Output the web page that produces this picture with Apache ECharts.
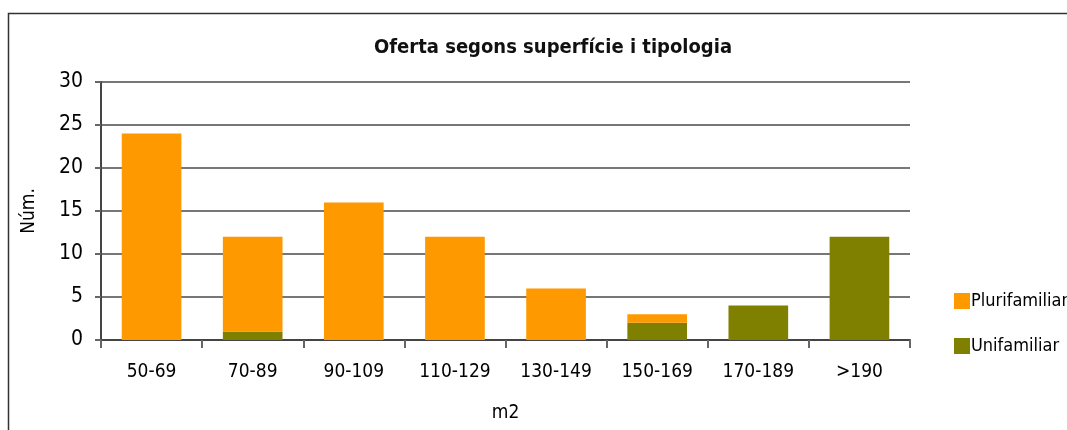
<!DOCTYPE html>
<html>
<head>
<meta charset="utf-8">
<script src="https://cdn.jsdelivr.net/npm/echarts@6/dist/echarts.min.js"></script>
<style>
  html, body { margin: 0; padding: 0; background: #fff; }
  #chart { width: 1067px; height: 430px; }
</style>
</head>
<body>
<div id="chart"></div>
<script>
const categories = ["50-69", "70-89", "90-109", "110-129", "130-149", "150-169", "170-189", ">190"];
const plurifamiliar = [24, 11, 16, 12, 6, 1, 0, 0];
const unifamiliar = [0, 1, 0, 0, 0, 2, 4, 12];
const yTicks = [0, 5, 10, 15, 20, 25, 30];

const font = '"Liberation Sans Narrow", "DejaVu Sans Condensed", "Liberation Sans", sans-serif';

const chart = echarts.init(document.getElementById("chart"));
chart.setOption({
  animation: false,
  textStyle: { fontFamily: font },
  title: {
    text: "Oferta segons superfície i tipologia",
    left: 548,
    top: 33,
    textAlign: "center",
    textStyle: { fontFamily: font, fontSize: 20, fontWeight: "bold", color: "#111" },
  },
  graphic: [
    {
      type: "rect",
      shape: { x: 8.5, y: 13.5, width: 1070, height: 430 },
      style: { fill: "none", stroke: "#333", lineWidth: 1.5 },
    },
  ],
  legend: {
    data: ["Plurifamiliar", "Unifamiliar"],
    orient: "vertical",
    left: 949,
    top: 287,
    itemWidth: 16,
    itemHeight: 16,
    itemGap: 27,
    icon: "rect",
    textStyle: { fontFamily: font, fontSize: 18, color: "#000", padding: [0, 0, 0, -4] },
  },
  grid: { left: 101, right: 157, top: 82, bottom: 90, containLabel: false },
  xAxis: {
    type: "category",
    data: categories,
    name: "m2",
    nameLocation: "middle",
    nameGap: 64,
    nameTextStyle: { fontFamily: font, fontSize: 19, color: "#000" },
    axisLine: { lineStyle: { color: "#444", width: 2 } },
    axisTick: { show: true, alignWithLabel: false, length: 8, lineStyle: { color: "#666", width: 2 } },
    axisLabel: { color: "#000", fontSize: 19, fontFamily: font, margin: 23 },
  },
  yAxis: {
    type: "value",
    min: yTicks[0],
    max: yTicks[yTicks.length - 1],
    interval: 5,
    name: "Núm.",
    nameLocation: "middle",
    nameGap: 62,
    nameRotate: 90,
    nameTextStyle: { fontFamily: font, fontSize: 19, color: "#000" },
    axisLine: { show: true, lineStyle: { color: "#444", width: 2 } },
    axisTick: { show: true, length: 6, lineStyle: { color: "#666", width: 2 } },
    axisLabel: { color: "#000", fontSize: 21, fontFamily: font, margin: 18 },
    splitLine: { show: true, lineStyle: { color: "#777", width: 2 } },
  },
  series: [
    {
      name: "Unifamiliar",
      type: "bar",
      stack: "total",
      data: unifamiliar,
      barWidth: "59%",
      itemStyle: { color: "#808000" },
    },
    {
      name: "Plurifamiliar",
      type: "bar",
      stack: "total",
      data: plurifamiliar,
      barWidth: "59%",
      itemStyle: { color: "#FF9900" },
    },
  ],
});
</script>
</body>
</html>
